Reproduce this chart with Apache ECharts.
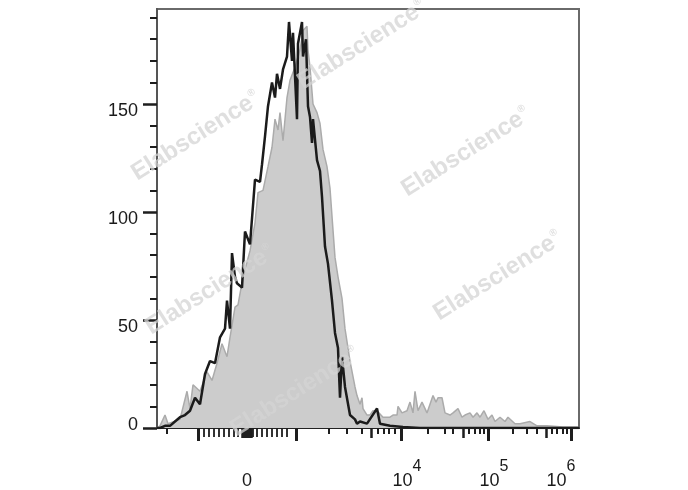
<!DOCTYPE html>
<html>
<head>
<meta charset="utf-8">
<script src="https://cdn.jsdelivr.net/npm/echarts@6/dist/echarts.min.js"></script>
<style>
html,body{margin:0;padding:0;background:#fff;}
#chart{width:688px;height:490px;}
</style>
</head>
<body>
<div id="chart"></div>
<script>
// Channel axis (display units of a biexponential fluorescence scale), 0..1055
var channelMax = 1055;

// Gray filled histogram (control)
var grayChannel = [0,7.5,20,27.5,32.5,57.5,75,82.5,90,107.5,125,137.5,150,162.5,175,182.5,195,202.5,215,232.5,245,252.5,265,277.5,287.5,295,302.5,307.5,315,325,332.5,345,357.5,365,375,377.5,382.5,390,400,407.5,415,425,432.5,437.5,445,452.5,462.5,470,482.5,495,500,507.5,512.5,515,525,532.5,540,550,565,582.5,590,600,602.5,612.5,625,632.5,640,645,652.5,662.5,675,682.5,690,697.5,702.5,712.5,720,732.5,740,752.5,762.5,770,782.5,790,800,807.5,817.5,827.5,837.5,845,857.5,870,877.5,895,907.5,932.5,950,975,1015,1050,1055];
var grayCount   = [0,1,6,2,2,4,17,9,20,17,26,22,30,39,33,42,56,57,70,82,95,109,110,121,130,143,138,146,133,153,161,167,175,184,186,175,167,150,146,141,129,121,111,98,79,70,60,46,31,19,15,11,14,9,6,6,8,8,5,5,6,6,10,7,8,12,7,17,8,12,7,11,15,12,14,14,7,6,7,9,5,6,7,5,7,5,8,4,6,3,5,3,5,2,2,3,1,1,0.5,0.5,0];

// Black line histogram (stained sample)
var blackChannel = [0,7.5,20,32.5,45,57.5,70,82.5,95,107.5,120,132.5,145,157.5,170,175,182.5,187.5,195,200,212.5,220,232.5,237.5,245,257.5,262.5,270,277.5,287.5,295,300,307.5,315,325,330,337.5,340,350,352.5,362.5,365,372.5,377.5,382.5,387.5,390,400,407.5,412.5,420,427.5,437.5,445,452.5,457.5,462.5,470,482.5,495,500,507.5,525,550,557.5,582.5,615,657.5,800,1055];
var blackCount   = [0,0,1,1,3,5,6,8,14,11,25,31,30,42,46,59,46,81,70,67,65,91,85,97,115,114,122,135,149,160,153,164,157,166,172,188,170,183,143,178,188,172,180,149,144,132,143,124,119,107,84,76,59,44,37,14,33,19,6,4,2,3,2,9,2,1,0.5,0,0,0];

// Y axis ticks
var yMajorTicks = [0, 50, 100, 150];
var yMinorTicks = [10,20,30,40,60,70,80,90,110,120,130,140,160,170,180,190];

// X axis ticks (channel positions of decade marks)
var xMajorTicks  = [102.5, 347.5, 610, 827.5, 1035];
var xMediumTicks = [212.5, 216.25, 220, 223.75, 227.5, 231.25, 235, 535, 765, 972.5];
var xNearZeroTicks = [117.5,130,142.5,155,167.5,180,192.5,202.5,240,250,262.5,275,287.5,300,312.5,325];
var xMinorTicks  = [25,430,475,512.5,552.5,567.5,580,595,677.5,720,740,780,795,807.5,817.5,890,925,950,987.5,1000,1015,1025];

// X axis labels
var xLabelValues = [225, 610, 827.5, 1035];
var xLabelBase   = ['0', '10', '10', '10'];
var xLabelExp    = ['', '4', '5', '6'];

var FONT = 'Liberation Sans, Arial, Helvetica, sans-serif';

function pairs(xs, ys){ return xs.map(function(x,i){ return [x, ys[i]]; }); }

function tickAxis(values, len, width){
  return {
    type: 'value', min: 0, max: channelMax, position: 'bottom', offset: 0,
    axisLine: {show: false}, splitLine: {show: false},
    axisLabel: {show: false},
    axisTick: {show: true, customValues: values, length: len, lineStyle: {color: '#1e1e1e', width: width}}
  };
}

var chart = echarts.init(document.getElementById('chart'), null, {renderer: 'canvas'});

var wm = [
  [362, 45], [196, 136], [466, 152], [210, 290], [498, 276], [295, 392]
];

var option = {
  animation: false,
  backgroundColor: '#ffffff',
  grid: {left: 157, right: 109, top: 9, bottom: 62, show: true, borderColor: '#6a6a6a', borderWidth: 2, backgroundColor: 'transparent'},
  xAxis: [
    {
      type: 'value', min: 0, max: channelMax, position: 'bottom',
      axisLine: {show: true, lineStyle: {color: '#222', width: 2}},
      splitLine: {show: false},
      axisTick: {show: true, customValues: xMajorTicks, length: 13, lineStyle: {color: '#1e1e1e', width: 3}},
      axisLabel: {
        show: true, customValues: xLabelValues, margin: 44,
        formatter: function(v){
          var i = xLabelValues.indexOf(v);
          if (i < 0) return '';
          if (!xLabelExp[i]) return '{s|\u200b}{b|' + xLabelBase[i] + '}';
          if (i === xLabelValues.length - 1) return '{b|' + xLabelBase[i] + '}{s6|' + xLabelExp[i] + '}';
          return '{bl|' + xLabelBase[i] + '}{s|' + xLabelExp[i] + '}';
        },
        rich: {
          b:  {fontSize: 18, fontFamily: FONT, color: '#1a1a1a', lineHeight: 18, verticalAlign: 'bottom'},
          bl: {fontSize: 18, fontFamily: FONT, color: '#1a1a1a', lineHeight: 18, padding: [0,0,0,12], verticalAlign: 'bottom'},
          s:  {fontSize: 16, fontFamily: FONT, color: '#1a1a1a', lineHeight: 16, verticalAlign: 'bottom', padding: [0,0,15,0]},
          s6: {fontSize: 16, fontFamily: FONT, color: '#1a1a1a', lineHeight: 16, verticalAlign: 'bottom', padding: [0,20,15,0]}
        }
      }
    },
    tickAxis(xMediumTicks, 10, 2.5),
    tickAxis(xNearZeroTicks, 9, 1.8),
    tickAxis(xMinorTicks, 6, 2)
  ],
  yAxis: [
    {
      type: 'value', min: 0, max: 194, position: 'left',
      axisLine: {show: true, lineStyle: {color: '#555', width: 2}},
      splitLine: {show: false},
      axisTick: {show: true, customValues: yMajorTicks, length: 14, lineStyle: {color: '#1e1e1e', width: 2.5}},
      axisLabel: {
        show: true, customValues: yMajorTicks, margin: 19,
        formatter: function(v){ return v === 0 ? '{z|0}' : '{a|' + v + '}'; },
        rich: {
          a: {fontSize: 18, fontFamily: FONT, color: '#1a1a1a', padding: [15,0,0,0]},
          z: {fontSize: 18, fontFamily: FONT, color: '#1a1a1a', padding: [0,0,6,0]}
        }
      }
    },
    {
      type: 'value', min: 0, max: 194, position: 'left', offset: 0,
      axisLine: {show: false}, splitLine: {show: false}, axisLabel: {show: false},
      axisTick: {show: true, customValues: yMinorTicks, length: 7, lineStyle: {color: '#1e1e1e', width: 2}}
    }
  ],
  series: [
    {
      type: 'line', name: 'control', xAxisIndex: 0, yAxisIndex: 0,
      data: pairs(grayChannel, grayCount),
      showSymbol: false, symbol: 'none',
      lineStyle: {color: '#ababab', width: 1.5},
      areaStyle: {color: '#cccccc', opacity: 1},
      z: 2
    },
    {
      type: 'line', name: 'sample', xAxisIndex: 0, yAxisIndex: 0,
      data: pairs(blackChannel, blackCount),
      showSymbol: false, symbol: 'none',
      lineStyle: {color: '#1b1b1b', width: 2.5},
      z: 3
    }
  ],
  graphic: wm.map(function(p){
    return {
      type: 'text', x: p[0], y: p[1], rotation: 0.56, z: 100, silent: true,
      style: {
        text: '{m|Elabscience}{r|®}',
        textAlign: 'center', textVerticalAlign: 'middle',
        rich: {
          m: {fontSize: 24, fontWeight: 'bold', fontFamily: FONT, fill: 'rgba(212,212,212,0.75)'},
          r: {fontSize: 10, fontWeight: 'bold', fontFamily: FONT, fill: 'rgba(212,212,212,0.75)', verticalAlign: 'top', padding: [0,0,12,1]}
        }
      }
    };
  })
};

chart.setOption(option);
</script>
</body>
</html>
